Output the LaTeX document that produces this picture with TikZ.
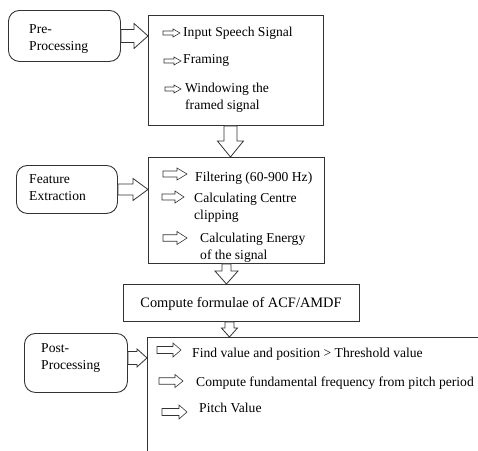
\documentclass[tikz,border=0pt]{standalone}
\usepackage{fontspec}
\setmainfont{Liberation Serif}
\usetikzlibrary{calc}

\definecolor{linegray}{HTML}{333333}

% two-line text whose baseline is the first line
\newcommand\twolines[1]{\begin{tabular}[t]{@{}l@{}}#1\end{tabular}}

% horizontal hollow block arrow: from, to, shaft half height, head half height, head length
\newcommand\hblock[5]{\draw[blockarrow] let \p1=(#1), \p2=(#2) in
  (\x1,\y2+#3pt) -- (\x2-#5pt,\y2+#3pt) -- (\x2-#5pt,\y2+#4pt) -- (\x2,\y2)
  -- (\x2-#5pt,\y2-#4pt) -- (\x2-#5pt,\y2-#3pt) -- (\x1,\y2-#3pt) -- cycle;}

% vertical hollow block arrow: from, to, shaft half width, head half width, head length
\newcommand\vblock[5]{\draw[blockarrow] let \p1=(#1), \p2=(#2) in
  (\x2+#3pt,\y1) -- (\x2+#3pt,\y2+#5pt) -- (\x2+#4pt,\y2+#5pt) -- (\x2,\y2)
  -- (\x2-#4pt,\y2+#5pt) -- (\x2-#3pt,\y2+#5pt) -- (\x2-#3pt,\y1) -- cycle;}

\tikzset{
  frame/.style={draw=linegray, line width=0.9pt},
  panel/.style={frame, rectangle, inner sep=0pt, anchor=north west},
  stage/.style={frame, rounded corners=11pt, inner sep=0pt, anchor=north west},
  txt/.style={anchor=base west, inner sep=0pt, font=\fontsize{13.6}{17}\selectfont},
  blockarrow/.style={draw=linegray, line width=0.8pt, fill=white, line join=miter},
  % small outlined bullet arrow: length, head length, head half height
  pics/bul/.style n args={3}{code={
    \draw[blockarrow, line width=0.6pt]
      (0,-#3/2) -- (#1-#2,-#3/2) -- (#1-#2,-#3) -- (#1,0) -- (#1-#2,#3)
      -- (#1-#2,#3/2) -- (0,#3/2) -- cycle;
  }}
}

\begin{document}
\begin{tikzpicture}[x=1pt, y=-1pt]
  \path[use as bounding box] (0,0) rectangle (478,450);
  \clip (0,0) rectangle (478,450);

  % stage labels
  \node[stage, minimum width=112pt, minimum height=51pt] (pre) at (8,10) {};
  \node[txt] (pretext) at (29,33) {\twolines{Pre-\\Processing}};

  \node[stage, minimum width=101pt, minimum height=48pt] (feat) at (16,165) {};
  \node[txt] (feattext) at (29,183) {\twolines{Feature\\Extraction}};

  \node[stage, minimum width=103pt, minimum height=59pt] (post) at (24,333) {};
  \node[txt] (posttext) at (41,352) {\twolines{Post-\\Processing}};

  % step panels
  \node[panel, minimum width=175pt, minimum height=110pt] (box1) at (148,15) {};
  \node[panel, minimum width=176pt, minimum height=106pt] (box2) at (148,157) {};
  \node[panel, minimum width=236pt, minimum height=37pt] (acf) at (123,284) {};
  \node[anchor=base, inner sep=0pt, font=\fontsize{14.4}{17}\selectfont]
    (acftext) at (241,307) {Compute formulae of ACF/AMDF};
  \node[panel, minimum width=420pt, minimum height=200pt] (box3) at (147,337) {};

  % pre-processing steps
  \pic at (163,33) {bul={17}{7}{4}};
  \node[txt] (s11) at (183,36) {Input Speech Signal};
  \pic at (164,61) {bul={17}{7}{4}};
  \node[txt] (s12) at (183,63) {Framing};
  \pic at (165,89) {bul={16}{7}{4}};
  \node[txt] (s13) at (185,92) {\twolines{Windowing the\\framed signal}};

  % feature extraction steps
  \pic at (163,174) {bul={24}{10}{6}};
  \node[txt] (s21) at (195,181) {Filtering (60-900 Hz)};
  \pic at (162,197) {bul={22}{9}{6}};
  \node[txt] (s22) at (194,202) {\twolines{Calculating Centre\\clipping}};
  \pic at (163,238) {bul={24}{10}{6.5}};
  \node[txt] (s23) at (200,242) {\twolines{Calculating Energy\\of the signal}};

  % post-processing steps
  \pic at (157,350) {bul={24}{8}{7}};
  \node[txt] (s31) at (192,357) {Find value and position > Threshold value};
  \pic at (159,381) {bul={24}{8}{6.5}};
  \node[txt] (s32) at (196,386) {Compute fundamental frequency from pitch period};
  \pic at (162,412) {bul={25}{8}{7}};
  \node[txt] (s33) at (199,412) {Pitch Value};

  % block arrows from stage labels into the panels
  \hblock{pre.east}{pre.east -| box1.west}{6.5}{12.5}{14}
  \hblock{feat.east}{feat.east -| box2.west}{5.5}{11}{15}
  \coordinate (pp) at ([yshift=5pt]post.east);
  \hblock{pp}{pp -| box3.west}{6.5}{9}{10}

  % block arrows between panels
  \coordinate (a1) at ([xshift=-5.5pt]box1.south);
  \vblock{a1}{a1 |- box2.north}{6.5}{13}{16}
  \coordinate (a2) at ([xshift=-10pt]box2.south);
  \vblock{a2}{a2 |- acf.north}{4.5}{11.5}{13}
  \coordinate (a3) at ([xshift=-12pt]acf.south);
  \vblock{a3}{a3 |- box3.north}{4.5}{8}{9}
\end{tikzpicture}
\end{document}
